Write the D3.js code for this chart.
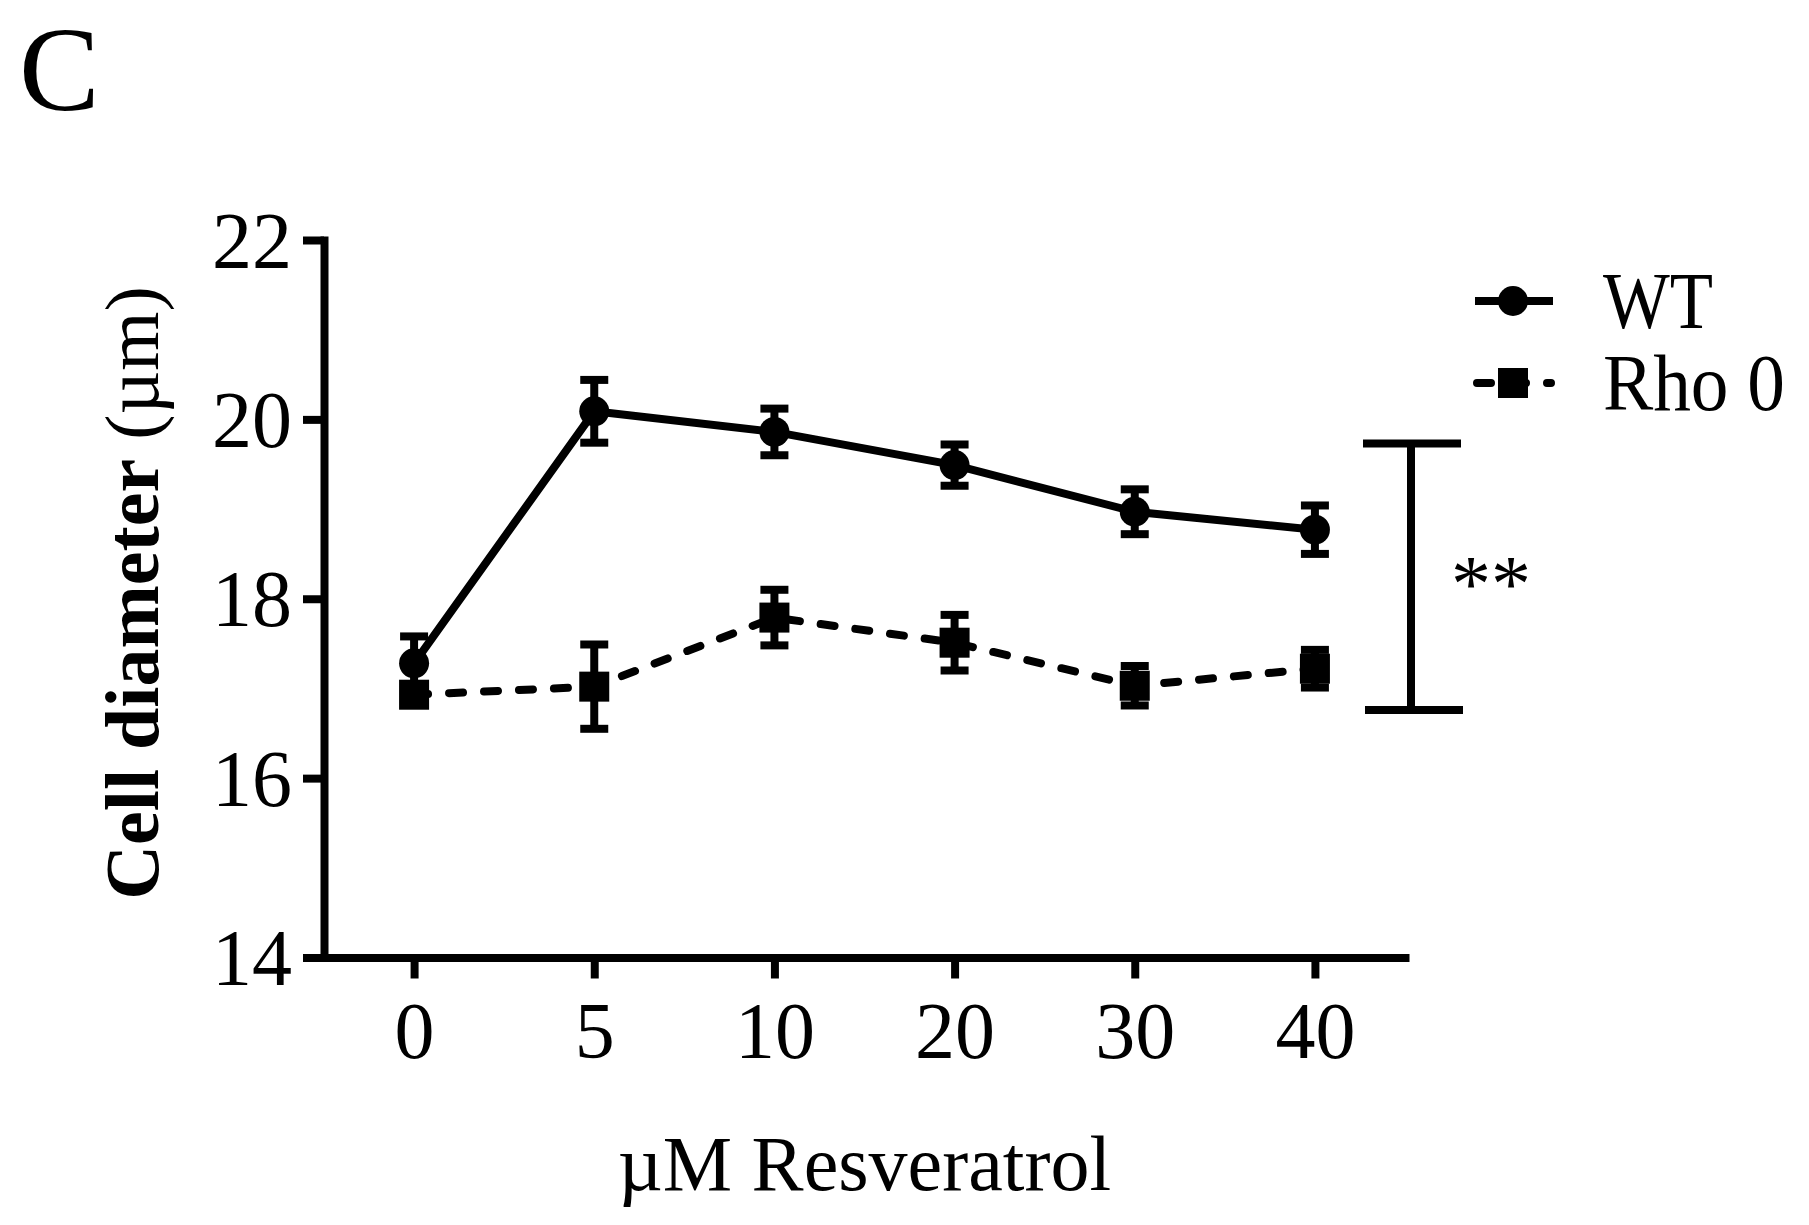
<!DOCTYPE html>
<html>
<head>
<meta charset="utf-8">
<script src="https://cdn.jsdelivr.net/npm/d3@7"></script>
<style>
  body { margin: 0; background: #fff; }
  text { font-family: "Liberation Serif", "Times New Roman", serif; fill: #000; }
</style>
</head>
<body>
<svg id="chart" width="1809" height="1225"></svg>
<script>
// data
const doses = ["0", "5", "10", "20", "30", "40"]
const wtMean = [17.28, 20.09, 19.86, 19.49, 18.97, 18.77]
const wtErr = [0.30, 0.35, 0.26, 0.23, 0.25, 0.27]
const rhoMean = [16.93, 17.02, 17.79, 17.51, 17.03, 17.22]
const rhoErr = [0.10, 0.47, 0.31, 0.31, 0.22, 0.21]
const yTicks = [14, 16, 18, 20, 22]
const sigBracket = [16.76, 19.73]

const svg = d3.select("#chart")
const lw = 8

const scX = d3.scalePoint().domain(doses).range([324, 1405]).padding(0.5)
const scY = d3.scaleLinear().domain([14, 22]).range([957.5, 240])

function rows(means, errs) {
    return doses.map((d, i) => ({ dose: d, value: means[i], err: errs[i] }))
}
const wt = rows(wtMean, wtErr)
const rho = rows(rhoMean, rhoErr)

// panel letter
svg.append("text").attr("x", 19).attr("y", 110)
    .style("font-size", "121px").text("C")

// Axes
const yAxis = svg.append("g").attr("transform", "translate(324,0)")
    .call(d3.axisLeft(scY).tickValues(yTicks).tickSize(21).tickSizeOuter(0).tickPadding(11))
const xAxis = svg.append("g").attr("transform", "translate(0,957.5)")
    .call(d3.axisBottom(scX).tickSize(21).tickSizeOuter(0))

yAxis.select(".domain").attr("stroke-width", lw).attr("stroke-linecap", "square")
xAxis.select(".domain").attr("stroke-width", lw).attr("stroke-linecap", "square")
svg.selectAll(".tick line").attr("stroke-width", lw)
yAxis.selectAll(".tick text").style("font-size", "80px").attr("dy", "0.34em").attr("fill", "#000")
xAxis.selectAll(".tick text").style("font-size", "80px").attr("y", 0).attr("dy", 100).attr("fill", "#000")
svg.selectAll(".domain, .tick line").attr("stroke", "#000")

// axis titles
svg.append("text")
    .attr("transform", "translate(158,593) rotate(-90)")
    .attr("text-anchor", "middle")
    .style("font-size", "76px")
    .call(t => {
        t.append("tspan").style("font-weight", "bold").text("Cell diameter")
        t.append("tspan").text(" (\u00b5m)")
    })

svg.append("text").attr("x", 864.5).attr("y", 1190)
    .attr("text-anchor", "middle").style("font-size", "78px")
    .text("\u00b5M Resveratrol")

// series
function drawSeries(data, dashed, marker) {
    const g = svg.append("g")
    const lnMkr = d3.line().x(d => scX(d.dose)).y(d => scY(d.value))
    g.append("path").datum(data)
        .attr("d", lnMkr).attr("fill", "none").attr("stroke", "#000")
        .attr("stroke-width", lw)
        .attr("stroke-linecap", dashed ? "round" : "butt")
        .attr("stroke-dasharray", dashed ? "14,21" : null)

    const eb = g.selectAll("g.err").data(data).enter().append("g").attr("class", "err")
    eb.append("line")
        .attr("x1", d => scX(d.dose)).attr("x2", d => scX(d.dose))
        .attr("y1", d => scY(d.value + d.err)).attr("y2", d => scY(d.value - d.err))
    eb.append("line")
        .attr("x1", d => scX(d.dose) - 14).attr("x2", d => scX(d.dose) + 14)
        .attr("y1", d => scY(d.value + d.err)).attr("y2", d => scY(d.value + d.err))
    eb.append("line")
        .attr("x1", d => scX(d.dose) - 14).attr("x2", d => scX(d.dose) + 14)
        .attr("y1", d => scY(d.value - d.err)).attr("y2", d => scY(d.value - d.err))
    eb.selectAll("line").attr("stroke", "#000").attr("stroke-width", lw)

    if (marker == "circle") {
        g.selectAll("circle").data(data).enter().append("circle")
            .attr("cx", d => scX(d.dose)).attr("cy", d => scY(d.value)).attr("r", 15)
            .attr("fill", "#000")
    } else {
        g.selectAll("rect").data(data).enter().append("rect")
            .attr("x", d => scX(d.dose) - 15).attr("y", d => scY(d.value) - 15)
            .attr("width", 30).attr("height", 30).attr("fill", "#000")
    }
}
drawSeries(wt, false, "circle")
drawSeries(rho, true, "square")

// legend
const leg = svg.append("g")
leg.append("line").attr("x1", 1475).attr("x2", 1553).attr("y1", 301).attr("y2", 301)
    .attr("stroke", "#000").attr("stroke-width", lw)
leg.append("circle").attr("cx", 1513).attr("cy", 301).attr("r", 15).attr("fill", "#000")
leg.append("text").attr("x", 1603).attr("y", 328).style("font-size", "80px")
    .attr("textLength", 110).attr("lengthAdjust", "spacingAndGlyphs").text("WT")

leg.append("line").attr("x1", 1477).attr("x2", 1551).attr("y1", 383).attr("y2", 383)
    .attr("stroke", "#000").attr("stroke-width", lw)
    .attr("stroke-linecap", "round").attr("stroke-dasharray", "14,21")
leg.append("rect").attr("x", 1498).attr("y", 368).attr("width", 30).attr("height", 30).attr("fill", "#000")
leg.append("text").attr("x", 1603).attr("y", 410).style("font-size", "80px")
    .attr("textLength", 182).attr("lengthAdjust", "spacingAndGlyphs").text("Rho 0")

// significance bracket
const br = svg.append("g").attr("stroke", "#000").attr("stroke-width", lw)
br.append("line").attr("x1", 1411).attr("x2", 1411)
    .attr("y1", scY(sigBracket[1])).attr("y2", scY(sigBracket[0]))
br.append("line").attr("x1", 1363).attr("x2", 1461)
    .attr("y1", scY(sigBracket[1])).attr("y2", scY(sigBracket[1]))
br.append("line").attr("x1", 1365).attr("x2", 1463)
    .attr("y1", scY(sigBracket[0])).attr("y2", scY(sigBracket[0]))
svg.append("text").attr("x", 1451).attr("y", 611).style("font-size", "80px").text("**")
</script>
</body>
</html>
